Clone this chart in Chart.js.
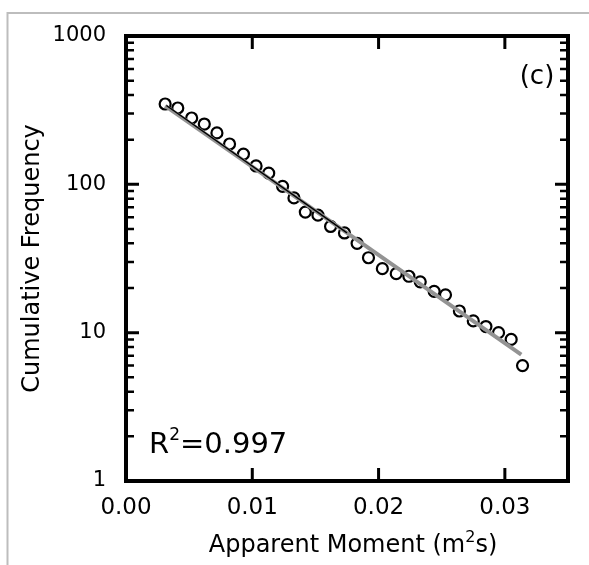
<!DOCTYPE html>
<html>
<head>
<meta charset="UTF-8">
<title>Cumulative Frequency vs Apparent Moment</title>
<script src="https://cdn.jsdelivr.net/npm/chart.js"></script>
<style>
  html, body { margin: 0; padding: 0; background: #fff; }
  #wrap { width: 589px; height: 565px; }
</style>
</head>
<body>
<div id="wrap"><canvas id="chart" width="589" height="565"></canvas></div>
<script>
// data
const moment = [0.0031, 0.0041, 0.0052, 0.0062, 0.0072, 0.0082, 0.0093, 0.0103, 0.0113, 0.0124,
                0.0133, 0.0142, 0.0152, 0.0162, 0.0173, 0.0183, 0.0192, 0.0203, 0.0214, 0.0224,
                0.0233, 0.0244, 0.0253, 0.0264, 0.0275, 0.0285, 0.0295, 0.0305, 0.0314];
const cumFreq = [348, 327, 280, 255, 222, 187, 160, 133, 119, 97,
                 81, 65, 62, 52, 47, 40, 32, 27, 25, 24,
                 22, 19, 18, 14, 12, 11, 10, 9, 6];
// regression line end points
const fitX = [0.0031, 0.0313];
const fitY = [338, 7.1];
const darkFitX = [0.0032, 0.0175];
const darkFitY = [340, 47];

const xTickLabels = [0, 0.01, 0.02, 0.03];
const yTickLabels = [1, 10, 100, 1000];

const FONT = 'DejaVu Sans';
Chart.defaults.font.family = FONT;
Chart.defaults.color = '#000';

const frame = {
  id: 'frame',
  beforeDraw(chart) {
    const ctx = chart.ctx;
    ctx.save();
    ctx.strokeStyle = '#bdbdbd';
    ctx.lineWidth = 2;
    ctx.beginPath();
    ctx.moveTo(7.5, 565);
    ctx.lineTo(7.5, 13);
    ctx.lineTo(589, 13);
    ctx.stroke();
    ctx.restore();
  },
  afterDraw(chart) {
    const { ctx, chartArea: a, scales: { x, y } } = chart;
    ctx.save();
    ctx.strokeStyle = '#000';
    ctx.lineCap = 'butt';

    // inward ticks, x
    ctx.lineWidth = 3;
    xTickLabels.forEach(v => {
      const px = x.getPixelForValue(v);
      ctx.beginPath();
      ctx.moveTo(px, a.bottom); ctx.lineTo(px, a.bottom - 13);
      ctx.moveTo(px, a.top); ctx.lineTo(px, a.top + 13);
      ctx.stroke();
    });

    // inward ticks, y (log minor ticks too)
    for (let d = 1; d < 1000; d *= 10) {
      for (let m = 1; m < 10; m++) {
        const py = y.getPixelForValue(d * m);
        const len = m === 1 ? 13 : 8;
        ctx.lineWidth = m === 1 ? 3 : 2.5;
        ctx.beginPath();
        ctx.moveTo(a.left, py); ctx.lineTo(a.left + len, py);
        ctx.moveTo(a.right, py); ctx.lineTo(a.right - len, py);
        ctx.stroke();
      }
    }

    ctx.lineWidth = 4;
    ctx.strokeRect(a.left, a.top, a.right - a.left, a.bottom - a.top);

    ctx.fillStyle = '#000';

    // y title
    ctx.save();
    ctx.translate(33, (a.top + a.bottom) / 2);
    ctx.rotate(-Math.PI / 2);
    ctx.font = `24px "${FONT}"`;
    ctx.textAlign = 'center';
    ctx.textBaseline = 'middle';
    ctx.fillText('Cumulative Frequency', 0, 0);
    ctx.restore();

    // x title with superscript
    ctx.textBaseline = 'alphabetic';
    ctx.textAlign = 'left';
    const big = `24px "${FONT}"`, small = `16px "${FONT}"`;
    const p1 = 'Apparent Moment (m', p2 = '2', p3 = 's)';
    ctx.font = big; const w1 = ctx.measureText(p1).width, w3 = ctx.measureText(p3).width;
    ctx.font = small; const w2 = ctx.measureText(p2).width;
    let tx = 353 - (w1 + w2 + w3) / 2;
    ctx.font = big; ctx.fillText(p1, tx, 552); tx += w1;
    ctx.font = small; ctx.fillText(p2, tx, 542); tx += w2;
    ctx.font = big; ctx.fillText(p3, tx, 552);

    // R^2 annotation
    ctx.font = `29px "${FONT}"`;
    ctx.fillText('R', 149, 453);
    let rx = 149 + ctx.measureText('R').width;
    ctx.font = `17px "${FONT}"`;
    ctx.fillText('2', rx, 440);
    rx += ctx.measureText('2').width;
    ctx.font = `29px "${FONT}"`;
    ctx.fillText('=0.997', rx, 453);

    // panel label
    ctx.font = `26px "${FONT}"`;
    ctx.textAlign = 'center';
    ctx.textBaseline = 'middle';
    ctx.fillText('(c)', 537, 77);

    ctx.restore();
  }
};

new Chart(document.getElementById('chart'), {
  type: 'scatter',
  data: {
    datasets: [
      {
        type: 'line',
        data: darkFitX.map((v, i) => ({ x: v, y: darkFitY[i] })),
        borderColor: '#000',
        borderWidth: 1.5,
        pointRadius: 0,
        order: 0
      },
      {
        type: 'line',
        data: fitX.map((v, i) => ({ x: v, y: fitY[i] })),
        borderColor: '#939393',
        borderWidth: 4,
        pointRadius: 0,
        order: 1
      },
      {
        data: moment.map((v, i) => ({ x: v, y: cumFreq[i] })),
        pointRadius: 5.5,
        pointBorderWidth: 2.2,
        pointBorderColor: '#000',
        pointBackgroundColor: 'rgba(0,0,0,0)',
        order: 2
      }
    ]
  },
  options: {
    responsive: false,
    animation: false,
    layout: { padding: { left: 0, top: 36, right: 21, bottom: 0 } },
    plugins: { legend: { display: false }, tooltip: { enabled: false } },
    scales: {
      x: {
        type: 'linear',
        min: 0,
        max: 0.035,
        afterBuildTicks: s => { s.ticks = xTickLabels.map(v => ({ value: v })); },
        afterFit: s => { s.height = 84; },
        grid: { display: false, drawTicks: false },
        border: { display: false },
        ticks: {
          padding: 13,
          maxRotation: 0,
          font: { size: 23 },
          callback: v => v.toFixed(2)
        }
      },
      y: {
        type: 'logarithmic',
        min: 1,
        max: 1000,
        afterBuildTicks: s => { s.ticks = yTickLabels.map(v => ({ value: v })); },
        afterFit: s => { s.width = 126; },
        grid: { display: false, drawTicks: false },
        border: { display: false },
        ticks: {
          padding: 20,
          font: { size: 21 },
          callback: v => String(v)
        }
      }
    }
  },
  plugins: [frame]
});
</script>
</body>
</html>
